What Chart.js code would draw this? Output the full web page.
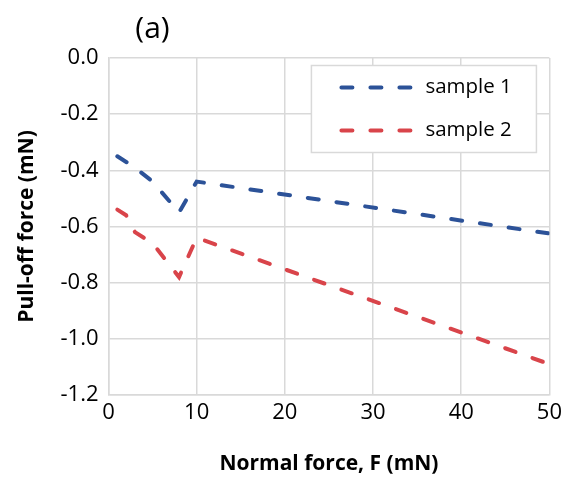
<!DOCTYPE html>
<html>
<head>
<meta charset="utf-8">
<script src="https://cdn.jsdelivr.net/npm/chart.js@4.4.1/dist/chart.umd.min.js"></script>
<style>
  html, body { margin: 0; padding: 0; background: #fff; }
  #wrap { width: 567px; height: 477px; }
</style>
</head>
<body>
<div id="wrap"><canvas id="mychart" width="567" height="477"></canvas></div>
<script>
// values
const forceS1 = [1, 3, 5, 8, 10, 50];
const pullS1 = [-0.35, -0.39, -0.44, -0.55, -0.44, -0.625];
const forceS2 = [1, 2, 3, 5, 8, 10, 50];
const pullS2 = [-0.54, -0.56, -0.62, -0.66, -0.78, -0.64, -1.09];
const seriesNames = ['sample 1', 'sample 2'];
const panelLabel = '(a)';

const FONT = "'Open Sans', sans-serif";
const toPoints = (xs, ys) => xs.map((x, i) => ({x: x, y: ys[i]}));

const lineStyle = (color) => ({
    borderColor: color,
    backgroundColor: color,
    borderWidth: 4,
    borderDash: [11, 18],
    borderCapStyle: 'round',
    pointRadius: 0,
    fill: false,
    tension: 0,
});

// legend box inside plot + panel label
const boxLegend = {
    id: 'boxLegend',
    afterDatasetsDraw(chart) {
        const ctx = chart.ctx;
        const a = chart.chartArea;
        const bx = a.right - 238, by = a.top + 7.5, bw = 225, bh = 87;
        ctx.save();
        ctx.fillStyle = '#fff';
        ctx.fillRect(bx, by, bw, bh);
        ctx.strokeStyle = '#d9d9d9';
        ctx.lineWidth = 1.5;
        ctx.strokeRect(bx, by, bw, bh);
        chart.data.datasets.forEach((ds, i) => {
            const y = by + 22 + i * 43;
            ctx.beginPath();
            ctx.strokeStyle = ds.borderColor;
            ctx.lineWidth = 4;
            ctx.lineCap = 'round';
            ctx.setLineDash([11, 18]);
            ctx.moveTo(bx + 30, y);
            ctx.lineTo(bx + 104, y);
            ctx.stroke();
            ctx.setLineDash([]);
            ctx.fillStyle = '#000';
            ctx.font = '20.5px ' + FONT;
            ctx.textBaseline = 'middle';
            ctx.textAlign = 'left';
            ctx.fillText(ds.label, bx + 114, y);
        });
        ctx.font = '30px ' + FONT;
        ctx.textAlign = 'center';
        ctx.textBaseline = 'middle';
        ctx.fillStyle = '#000';
        ctx.fillText(panelLabel, a.left + 44, 29);
        ctx.restore();
    }
};

const data = {
    datasets: [
        Object.assign({label: seriesNames[0], data: toPoints(forceS1, pullS1)}, lineStyle('#2c5298')),
        Object.assign({label: seriesNames[1], data: toPoints(forceS2, pullS2)}, lineStyle('#d9444a')),
    ]
};

const config = {
    type: 'line',
    data: data,
    options: {
        responsive: false,
        animation: false,
        layout: {padding: {top: 58, right: 16, left: 0, bottom: 0}},
        plugins: {
            legend: {display: false},
            tooltip: {enabled: false},
        },
        scales: {
            x: {
                type: 'linear',
                min: 0,
                max: 50,
                ticks: {stepSize: 10, color: '#000', font: {size: 22, family: FONT}, padding: 5},
                grid: {color: '#d9d9d9', lineWidth: 1.5, drawTicks: false},
                border: {color: '#d9d9d9', width: 1.5},
                title: {
                    display: true,
                    text: 'Normal force, F (mN)',
                    color: '#000',
                    font: {size: 21, weight: 'bold', family: FONT},
                    padding: {top: 0, bottom: 0},
                },
                afterFit: (s) => { s.height = 82; },
            },
            y: {
                min: -1.2,
                max: 0,
                ticks: {
                    stepSize: 0.2,
                    color: '#000',
                    font: {size: 22, family: FONT},
                    padding: 10,
                    callback: (v) => v.toFixed(1),
                },
                grid: {color: '#d9d9d9', lineWidth: 1.5, drawTicks: false},
                border: {color: '#d9d9d9', width: 1.5},
                title: {
                    display: true,
                    text: 'Pull-off force (mN)',
                    color: '#000',
                    font: {size: 21, weight: 'bold', family: FONT},
                    padding: {top: 14, bottom: 0},
                },
                afterFit: (s) => { s.width = 108.5; },
            }
        }
    },
    plugins: [boxLegend],
};

const ctx = document.getElementById('mychart').getContext('2d');
new Chart(ctx, config);
</script>
</body>
</html>
